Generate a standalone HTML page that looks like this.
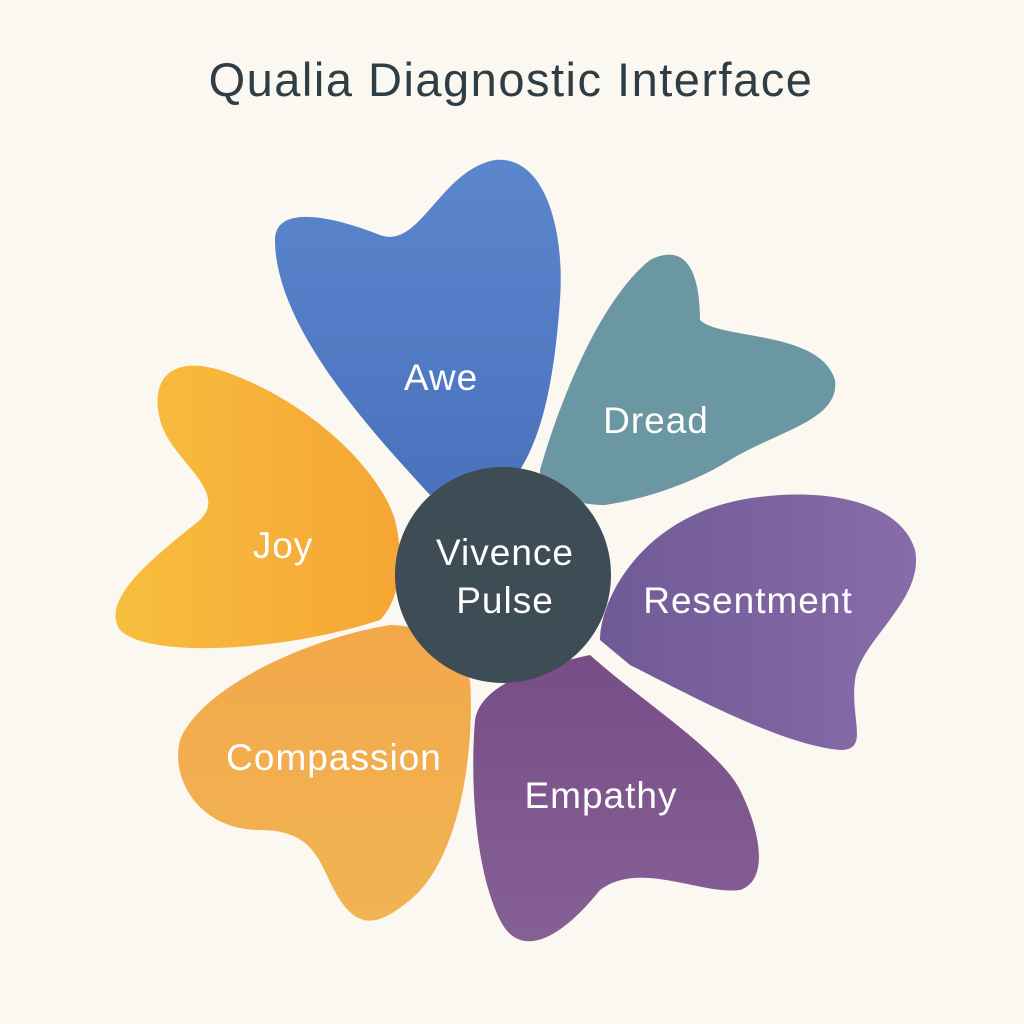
<!DOCTYPE html>
<html><head><meta charset="utf-8"><style>
html,body{margin:0;padding:0;background:#fbf8f2;}
svg{display:block;}
text{font-family:"Liberation Sans",sans-serif;}
</style></head><body>
<svg width="1024" height="1024" viewBox="0 0 1024 1024">
<defs>
<linearGradient id="gAwe" x1="0" y1="0" x2="0" y2="1"><stop offset="0" stop-color="#5b86cd"/><stop offset="1" stop-color="#4a72bd"/></linearGradient>
<linearGradient id="gJoy" x1="0" y1="0" x2="1" y2="0"><stop offset="0" stop-color="#f7be3e"/><stop offset="1" stop-color="#f6a635"/></linearGradient>
<linearGradient id="gComp" x1="0" y1="0" x2="0" y2="1"><stop offset="0" stop-color="#f2a84a"/><stop offset="1" stop-color="#f1b453"/></linearGradient>
<linearGradient id="gEmp" x1="0" y1="0" x2="0" y2="1"><stop offset="0" stop-color="#774e86"/><stop offset="1" stop-color="#856095"/></linearGradient>
<linearGradient id="gRes" x1="0" y1="0" x2="1" y2="0"><stop offset="0" stop-color="#705a96"/><stop offset="1" stop-color="#876ca8"/></linearGradient>
</defs>
<rect width="1024" height="1024" fill="#fbf8f2"/>
<text x="511" y="96" text-anchor="middle" font-size="47" letter-spacing="1.5" fill="#2f3d45">Qualia Diagnostic Interface</text>

<path d="M430,495 C380,440 275,330 275,240 C275,205 330,215 380,235 C420,250 440,170 495,160 C545,155 565,230 560,300 C555,370 545,430 520,470 C500,475 450,480 430,495 Z" fill="url(#gAwe)"/>
<path d="M540,470 C560,400 600,300 650,260 C690,240 700,280 700,320 C720,340 820,330 835,380 C840,420 780,430 730,460 C690,485 640,500 605,505 C570,505 540,490 540,470 Z" fill="#6b97a2"/>
<path d="M600,640 C600,600 640,520 740,500 C820,485 900,500 915,550 C925,600 860,640 855,680 C850,720 870,750 840,750 C780,745 680,690 630,665 Z" fill="url(#gRes)"/>
<path d="M590,655 C640,700 720,750 740,790 C760,830 770,880 740,890 C700,895 640,860 600,890 C560,940 520,960 500,920 C475,870 470,780 475,720 C480,690 520,670 590,655 Z" fill="url(#gEmp)"/>
<path d="M470,680 C475,750 460,860 410,900 C380,925 360,930 340,900 C320,870 320,830 260,830 C200,830 170,780 180,740 C200,690 300,640 390,625 C430,625 460,650 470,680 Z" fill="url(#gComp)"/>
<path d="M395,520 C380,470 310,400 220,370 C170,355 150,380 160,420 C170,460 230,490 200,520 C150,560 100,600 120,630 C150,660 290,650 380,620 C400,600 405,560 395,520 Z" fill="url(#gJoy)"/>

<circle cx="503" cy="575" r="108" fill="#3d4c55"/>

<g fill="#ffffff" font-size="37" letter-spacing="1" text-anchor="middle">
<text x="441" y="390">Awe</text>
<text x="656" y="433">Dread</text>
<text x="283" y="558">Joy</text>
<text x="748" y="613">Resentment</text>
<text x="334" y="770">Compassion</text>
<text x="601" y="808">Empathy</text>
<text x="505" y="565">Vivence</text>
<text x="505" y="613">Pulse</text>
</g>
</svg>
</body></html>
